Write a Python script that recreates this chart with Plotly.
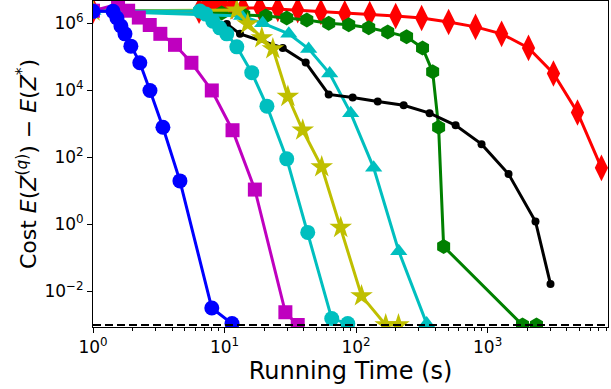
import plotly.graph_objects as go

# ---- data ----
blue_t = [1.0, 1.42, 1.52, 1.63, 1.75, 1.94, 2.27, 2.71, 3.40, 4.58, 8.0, 11.4]
blue_c = [2.3e6, 2.3e6, 1.45e6, 8.4e5, 4.9e5, 2.1e5, 6.7e4, 1.0e4, 8.0e2, 20, 3.2e-3, 1.1e-3]

mag_t = [1.0, 1.55, 1.85, 2.23, 2.70, 3.25, 4.20, 5.60, 8.0, 11.5, 17.0, 29.0, 36.0]
mag_c = [2.4e6, 3.8e6, 2.4e6, 1.5e6, 9.0e5, 4.9e5, 2.3e5, 6.7e4, 1.0e4, 6.5e2, 11, 2.4e-3, 1.0e-3]

cyc_t = [1.0, 6.5, 7.2, 8.15, 9.2, 10.4, 12.4, 16.1, 21.0, 29.7, 42.9, 65.3, 86.4]
cyc_c = [2.34e6, 2.34e6, 1.9e6, 1.17e6, 7.4e5, 4.9e5, 2.0e5, 3.4e4, 3.4e3, 91, 0.58, 1.55e-3, 1.1e-3]

cyt_t = [1.0, 13.5, 19.5, 30.8, 43.6, 63.0, 91.0, 136, 211, 344]
cyt_c = [2.34e6, 1.66e6, 1.02e6, 4.9e5, 1.74e5, 3.2e4, 2.1e3, 49, 0.16, 1.1e-3]

yel_t = [1.0, 12.4, 15.0, 19.2, 23.3, 30.3, 39.3, 54.8, 76.4, 110, 168, 210]
yel_c = [2.34e6, 2.5e6, 9.7e5, 3.7e5, 1.74e5, 6.6e3, 6.5e2, 52, 0.81, 7.4e-3, 1.0e-3, 1.0e-3]

blk_t = [10.4, 13.1, 27.7, 41.4, 61.9, 94.2, 146, 230, 362, 571, 899, 1442, 2311, 3006]
blk_c = [9.7e5, 4.9e5, 1.86e5, 6.8e4, 7.6e3, 6.2e3, 4.7e3, 3.6e3, 2.1e3, 9.1e2, 2.5e2, 32, 1.23, 1.66e-2]

grn_t = [1.0, 6.5, 9.5, 14.0, 20.6, 29.7, 42.2, 61.9, 87.9, 124.7, 174, 242, 320, 382, 424, 463, 1841, 2352]
grn_c = [2.34e6, 2.34e6, 2.04e6, 1.78e6, 1.66e6, 1.45e6, 1.26e6, 1.02e6, 9.1e5, 7.4e5, 5.6e5, 4.0e5, 1.86e5, 3.6e4, 8.0e2, 0.22, 1.0e-3, 1.0e-3]

red_t = [1.0, 6.4, 7.3, 8.2, 9.7, 11.4, 13.8, 18.5, 25.4, 36, 54, 82, 127, 200, 315, 505, 809, 1277, 2045, 3165, 4820, 7330]
red_c = [2.4e6, 2.4e6, 3.8e6, 3.6e6, 3.6e6, 3.3e6, 2.9e6, 2.9e6, 2.7e6, 2.5e6, 2.2e6, 2.0e6, 1.9e6, 1.66e6, 1.45e6, 1.1e6, 7.9e5, 4.9e5, 1.86e5, 3.2e4, 2.2e3, 49]

ref_level = 1e-3
x_tick_vals = [1, 10, 100, 1000]
x_tick_text = ["10<sup>0</sup>", "10<sup>1</sup>", "10<sup>2</sup>", "10<sup>3</sup>"]
y_tick_vals = [1e-2, 1, 1e2, 1e4, 1e6]
y_tick_text = ["10<sup>−2</sup>", "10<sup>0</sup>", "10<sup>2</sup>", "10<sup>4</sup>", "10<sup>6</sup>"]

fig = go.Figure()

def add(t, c, color, symbol, size, lw=3):
    fig.add_trace(go.Scatter(x=t, y=c, mode="lines+markers",
                             line=dict(color=color, width=lw),
                             marker=dict(color=color, symbol=symbol, size=size,
                                         line=dict(width=0)),
                             showlegend=False, cliponaxis=True))

add(red_t, red_c, "#ff0000", "diamond-tall", 19)
add(grn_t, grn_c, "#008000", "hexagon", 15)
add(cyt_t, cyt_c, "#00bfbf", "triangle-up", 15)
add(blk_t, blk_c, "#000000", "circle", 8)
add(yel_t, yel_c, "#bfbf00", "star", 17)
add(cyc_t, cyc_c, "#00bfbf", "circle", 15)
add(mag_t, mag_c, "#bf00bf", "square", 14)
add(blue_t, blue_c, "#0000ff", "circle", 15)

fig.add_shape(type="line", xref="paper", x0=0, x1=1, yref="y", y0=ref_level, y1=ref_level,
              line=dict(color="black", width=2, dash="8px,4px"))

fig.update_layout(
    width=611, height=389,
    margin=dict(l=93, r=3, t=1, b=62),
    plot_bgcolor="white", paper_bgcolor="white",
    font=dict(family="DejaVu Sans", color="black", size=17),
    xaxis=dict(type="log", range=[0, 3.915], tickvals=x_tick_vals, ticktext=x_tick_text,
               automargin=False,
               ticks="outside", ticklen=5, tickwidth=1, tickcolor="black",
               showline=True, linecolor="black", linewidth=1, mirror=True,
               showgrid=False, zeroline=False,
               minor=dict(ticks="outside", ticklen=3, tickcolor="black",
                          tickvals=[m * 10 ** e for e in range(0, 4) for m in range(2, 10)],
                          showgrid=False),
               title=dict(text="Running Time (s)", font=dict(size=24), standoff=5)),
    yaxis=dict(type="log", range=[-3.06, 6.67], tickvals=y_tick_vals, ticktext=y_tick_text,
               automargin=False,
               ticks="outside", ticklen=5, tickwidth=1, tickcolor="black",
               showline=True, linecolor="black", linewidth=1, mirror=True,
               showgrid=False, zeroline=False,
               title=dict(text="Cost <i>E</i>(<i>Z</i><sup>(<i>q</i>)</sup>) − <i>E</i>(<i>Z</i><sup>*</sup>)",
                          font=dict(size=22), standoff=1)),
)

fig.write_html("out.html", config={"displayModeBar": False},
               post_script="document.body.style.margin='0';document.body.style.overflow='hidden';")
